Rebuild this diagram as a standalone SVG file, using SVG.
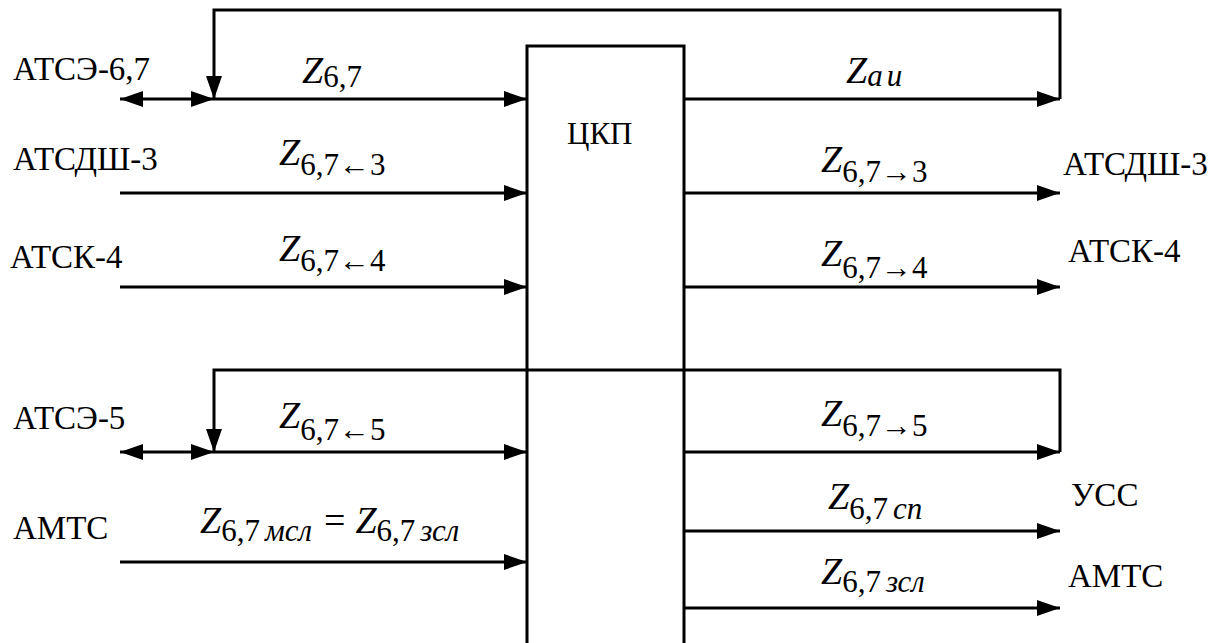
<svg xmlns="http://www.w3.org/2000/svg" width="1221" height="643" viewBox="0 0 1221 643">
<defs>
<marker id="ah" markerUnits="userSpaceOnUse" markerWidth="24" markerHeight="16" refX="23" refY="8" orient="auto-start-reverse"><path d="M0,0 L23,8 L0,16 z" fill="#000"/></marker>
</defs>
<style>
.ln{fill:none;stroke:#000;stroke-width:3}
.ar{fill:none;stroke:#000;stroke-width:3;marker-end:url(#ah)}
.da{fill:none;stroke:#000;stroke-width:3;marker-start:url(#ah);marker-end:url(#ah)}
text{font-family:'Liberation Serif','Times New Roman','DejaVu Serif',serif;fill:#000}
.st{font-size:33px}
.z{font-size:38px;font-style:italic}
.s{font-size:31px;font-style:normal}
.i{font-style:italic}
</style>
<rect width="1221" height="643" fill="#fff"/>
<g id="ckp">
<path class="ln" d="M527,650 V46 H684 V650"/>
<text x="567" y="144" style="font-size:31px">ЦКП</text>
</g>
<g id="connectors">
<path class="ar" d="M1060,99 V10 H214 V99"/>
<path class="da" d="M120,99 H214"/>
<path class="ar" d="M214,99 H527"/>
<path class="ar" d="M120,193 H527"/>
<path class="ar" d="M120,287 H527"/>
<path class="ar" d="M1060,452 V370 H214 V452"/>
<path class="da" d="M120,452 H214"/>
<path class="ar" d="M214,452 H527"/>
<path class="ar" d="M120,562 H527"/>
<path class="ar" d="M684,99 H1060"/>
<path class="ar" d="M684,193 H1060"/>
<path class="ar" d="M684,287 H1060"/>
<path class="ar" d="M684,452 H1060"/>
<path class="ar" d="M684,531 H1060"/>
<path class="ar" d="M684,608 H1060"/>
</g>
<g id="left-labels">
<text class="st" x="13" y="80">АТСЭ-6,7</text>
<text class="st" x="13" y="170">АТСДШ-3</text>
<text class="st" x="10" y="268">АТСК-4</text>
<text class="st" x="13" y="429">АТСЭ-5</text>
<text class="st" x="13" y="539">АМТС</text>
</g>
<g id="right-labels">
<text class="st" x="1063" y="175">АТСДШ-3</text>
<text class="st" x="1068" y="262">АТСК-4</text>
<text class="st" x="1071" y="506">УСС</text>
<text class="st" x="1068" y="587">АМТС</text>
</g>
<g id="flow-labels">
<text class="z" x="302" y="83">Z<tspan class="s" dy="4">6,7</tspan></text>
<text class="z" x="279" y="165">Z<tspan class="s" dy="10">6,7←3</tspan></text>
<text class="z" x="279" y="261">Z<tspan class="s" dy="10">6,7←4</tspan></text>
<text class="z" x="279" y="428">Z<tspan class="s" dy="12">6,7←5</tspan></text>
<text class="z" x="200" y="533">Z<tspan class="s" dy="8">6,7</tspan><tspan class="s i" dx="5">мсл</tspan><tspan dy="-8" dx="12" style="font-style:normal">=</tspan><tspan dx="10">Z</tspan><tspan class="s" dy="8">6,7</tspan><tspan class="s i" dx="5">зсл</tspan></text>
<text class="z" x="846" y="83">Z<tspan class="s i" dy="3">a</tspan><tspan class="s i" dx="4">u</tspan></text>
<text class="z" x="821" y="172">Z<tspan class="s" dy="10">6,7→3</tspan></text>
<text class="z" x="821" y="266">Z<tspan class="s" dy="12">6,7→4</tspan></text>
<text class="z" x="821" y="426">Z<tspan class="s" dy="10">6,7→5</tspan></text>
<text class="z" x="828" y="509">Z<tspan class="s" dy="10">6,7</tspan><tspan class="s i" dx="5">сп</tspan></text>
<text class="z" x="821" y="584">Z<tspan class="s" dy="8">6,7</tspan><tspan class="s i" dx="5">зсл</tspan></text>
</g>
</svg>
